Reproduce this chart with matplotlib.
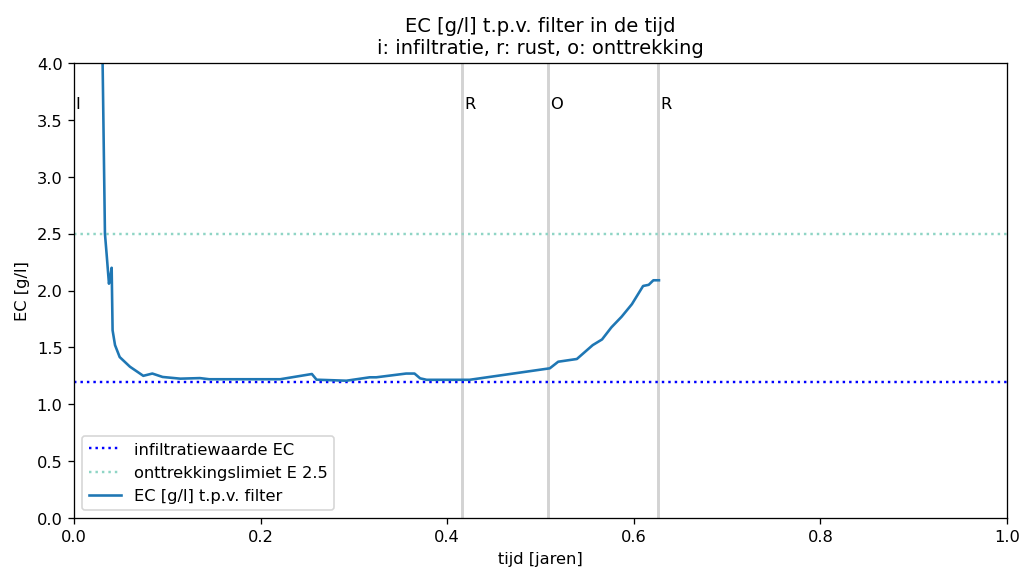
import matplotlib.pyplot as plt

# EC curve (tijd in jaren, EC in g/l)
tijd = [0.0290, 0.0307, 0.0332, 0.0350, 0.0375, 0.0390, 0.0404, 0.0414, 0.0440,
        0.0490, 0.0600, 0.0743, 0.0840, 0.0950, 0.1140, 0.1350, 0.1450, 0.2210,
        0.2550, 0.2600, 0.2920, 0.3170, 0.3240, 0.3560, 0.3650, 0.3710, 0.3780,
        0.4240, 0.5100, 0.5190, 0.5390, 0.5560, 0.5660, 0.5760, 0.5870, 0.5980,
        0.6100, 0.6160, 0.6210, 0.6270]
ec = [6.00, 4.00, 2.50, 2.32, 2.06, 2.12, 2.20, 1.65, 1.52,
      1.415, 1.33, 1.25, 1.27, 1.24, 1.225, 1.23, 1.22, 1.22,
      1.266, 1.216, 1.207, 1.237, 1.237, 1.27, 1.27, 1.228, 1.215,
      1.215, 1.316, 1.374, 1.398, 1.52, 1.57, 1.676, 1.77, 1.88,
      2.04, 2.05, 2.09, 2.09]

# fase-overgangen
fase_t = [0.0, 0.416, 0.508, 0.626]
fase_labels = ['I', 'R', 'O', 'R']

infiltratie_ec = 1.2
onttrekkingslimiet = 2.5

fig, ax = plt.subplots(figsize=(8.72, 4.87), dpi=117)
fig.subplots_adjust(left=0.0725, right=0.987, top=0.888, bottom=0.0895)

for t, lab in zip(fase_t, fase_labels):
    if t > 0:
        ax.axvline(t, color='lightgrey', linewidth=1.8)
    ax.text(t + 0.002, 3.6, lab, fontsize=10)

ax.axhline(infiltratie_ec, color='blue', linestyle=':', linewidth=1.5,
           label='infiltratiewaarde EC')
ax.axhline(onttrekkingslimiet, color='#8fd5c5', linestyle=':', linewidth=1.5,
           label='onttrekkingslimiet E 2.5')
ax.plot(tijd, ec, color='#1f77b4', linewidth=1.6, label='EC [g/l] t.p.v. filter')

ax.set_xlim(0, 1)
ax.set_ylim(0, 4)
ax.set_xlabel('tijd [jaren]')
ax.set_ylabel('EC [g/l]')
ax.set_title('EC [g/l] t.p.v. filter in de tijd\ni: infiltratie, r: rust, o: onttrekking')
ax.legend(loc='lower left')

plt.savefig('out.png')
